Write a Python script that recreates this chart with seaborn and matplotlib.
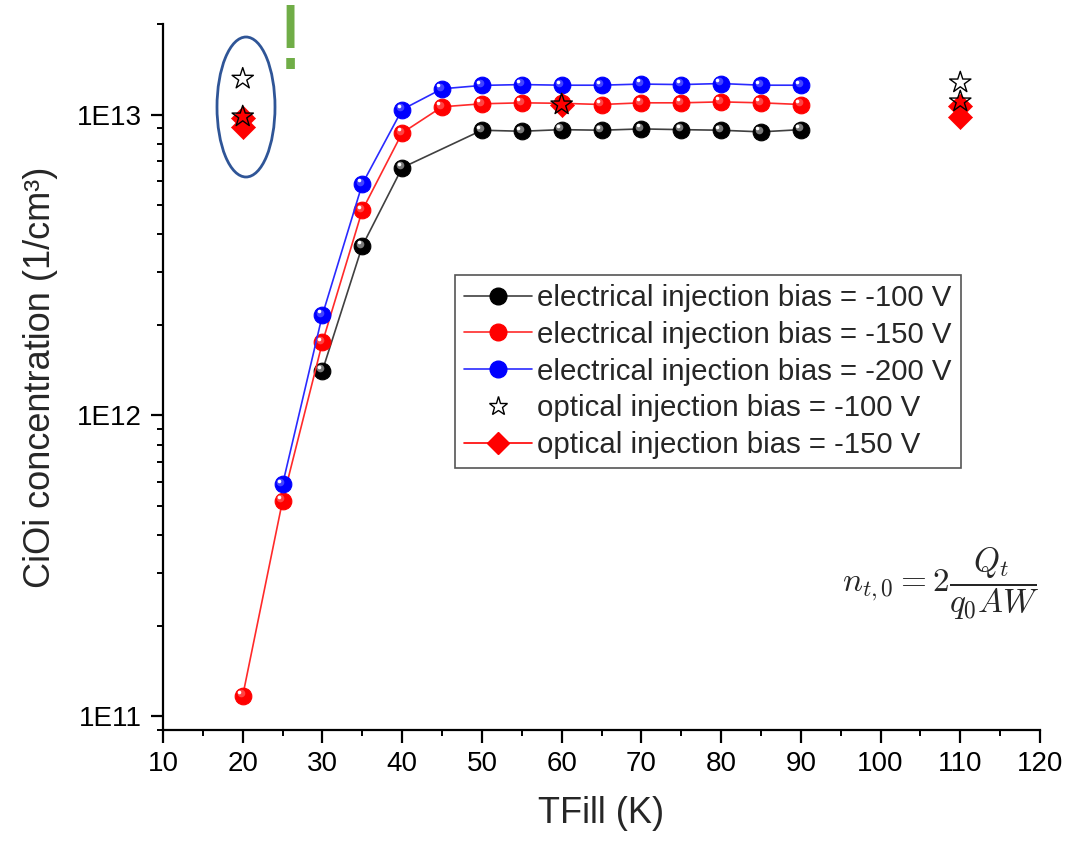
import numpy as np
import pandas as pd
import matplotlib
matplotlib.use("Agg")
import matplotlib.pyplot as plt
import matplotlib.transforms as mtransforms
from matplotlib.lines import Line2D
from matplotlib.patches import Ellipse
from matplotlib.ticker import FixedLocator, FuncFormatter, LogLocator, MultipleLocator
import seaborn as sns

# ---- data -------------------------------------------------------------
t_100 = [30, 35, 40, 50, 55, 60, 65, 70, 75, 80, 85, 90]
n_100 = [1.41e12, 3.66e12, 6.66e12, 8.87e12, 8.80e12, 8.91e12, 8.87e12,
         8.96e12, 8.91e12, 8.87e12, 8.76e12, 8.91e12]

t_150 = [20, 25, 30, 35, 40, 45, 50, 55, 60, 65, 70, 75, 80, 85, 90]
n_150 = [1.17e11, 5.21e11, 1.75e12, 4.81e12, 8.69e12, 1.061e13, 1.086e13,
         1.094e13, 1.09e13, 1.08e13, 1.094e13, 1.094e13, 1.102e13, 1.094e13,
         1.08e13]

t_200 = [25, 30, 35, 40, 45, 50, 55, 60, 65, 70, 75, 80, 85, 90]
n_200 = [5.9e11, 2.16e12, 5.88e12, 1.039e13, 1.218e13, 1.25e13, 1.258e13,
         1.252e13, 1.252e13, 1.263e13, 1.258e13, 1.268e13, 1.252e13, 1.252e13]

t_opt_100 = [20, 20, 60, 110, 110]
n_opt_100 = [1.315e13, 9.85e12, 1.08e13, 1.278e13, 1.105e13]

t_opt_150 = [20, 20, 60, 110, 110]
n_opt_150 = [9.77e12, 9.12e12, 1.073e13, 1.071e13, 9.85e12]

labels = ["electrical injection bias = -100 V",
          "electrical injection bias = -150 V",
          "electrical injection bias = -200 V",
          "optical injection bias = -100 V",
          "optical injection bias = -150 V"]

x_ticks = [10, 20, 30, 40, 50, 60, 70, 80, 90, 100, 110, 120]
y_major = [1e11, 1e12, 1e13]

# ---- style ------------------------------------------------------------
sns.set_style("ticks")
plt.rcParams["font.family"] = ["Liberation Sans", "DejaVu Sans"]
plt.rcParams["mathtext.fontset"] = "cm"

fig = plt.figure(figsize=(10.85, 8.44), dpi=100)
ax = fig.add_axes([163 / 1085, 114 / 844, 877 / 1085, 706 / 844])

series = [
    (t_100, n_100, "#000000", "#404040", labels[0]),
    (t_150, n_150, "#ff0000", "#ff2a2a", labels[1]),
    (t_200, n_200, "#0000ff", "#2a2aff", labels[2]),
]

ms = 12
for t, n, mcol, lcol, lab in series:
    df = pd.DataFrame({"T": t, "n": n})
    sns.lineplot(data=df, x="T", y="n", ax=ax, color=lcol, linewidth=1.2,
                 marker="o", markersize=ms, markerfacecolor=mcol,
                 markeredgecolor=mcol, markeredgewidth=0.8,
                 sort=False, estimator=None, zorder=3, legend=False)

# shaded "ball" look: lighter spot shifted to the upper left of each marker
for t, n, mcol, lcol, lab in series:
    glow = "#9a9a9a" if mcol == "#000000" else sns.blend_palette([mcol, "white"], 4)[1]
    off1 = mtransforms.offset_copy(ax.transData, fig=fig, x=-1.6, y=1.6, units="points")
    off2 = mtransforms.offset_copy(ax.transData, fig=fig, x=-2.6, y=2.6, units="points")
    ax.plot(t, n, ls="none", marker="o", ms=5.5, mfc=glow, mec="none",
            alpha=0.8, transform=off1, zorder=4)
    ax.plot(t, n, ls="none", marker="o", ms=2.6, mfc="white", mec="none",
            transform=off2, zorder=5)

# optical injection points
sns.scatterplot(x=t_opt_150, y=n_opt_150, ax=ax, marker="D", s=150,
                color="#ff0000", edgecolor="#ff0000", linewidth=0.5,
                zorder=6, legend=False)
sns.scatterplot(x=t_opt_100, y=n_opt_100, ax=ax, marker="*", s=260,
                facecolor="none", edgecolor="black", linewidth=1.0,
                zorder=7, legend=False)

# ---- axes ---------------------------------------------------------------
ax.set_yscale("log")
ax.set_xlim(10, 120)
ax.set_ylim(9e10, 2e13)
ax.xaxis.set_major_locator(FixedLocator(x_ticks))
ax.xaxis.set_minor_locator(MultipleLocator(5))
ax.yaxis.set_major_locator(FixedLocator(y_major))
ax.yaxis.set_minor_locator(LogLocator(base=10, subs=np.arange(2, 10), numticks=20))
ax.yaxis.set_major_formatter(
    FuncFormatter(lambda v, p: "1E{:d}".format(int(round(np.log10(v))))))

sns.despine(ax=ax)
for side in ("left", "bottom"):
    ax.spines[side].set_linewidth(1.6)
    ax.spines[side].set_color("black")
ax.tick_params(which="major", direction="out", length=9, width=1.6,
               labelsize=20, colors="black", pad=6)
ax.tick_params(which="minor", direction="out", length=4.5, width=1.4,
               colors="black")

ax.set_xlabel("TFill (K)", fontsize=26, labelpad=14)
ax.set_ylabel("CiOi concentration (1/cm³)", fontsize=26, labelpad=14)

# ---- legend -------------------------------------------------------------
handles = [
    Line2D([], [], color="#404040", lw=1.2, marker="o", ms=ms, mfc="black", mec="black"),
    Line2D([], [], color="#ff2a2a", lw=1.2, marker="o", ms=ms, mfc="#ff0000", mec="#ff0000"),
    Line2D([], [], color="#2a2aff", lw=1.2, marker="o", ms=ms, mfc="#0000ff", mec="#0000ff"),
    Line2D([], [], ls="none", marker="*", ms=14, mfc="none", mec="black", mew=1.0),
    Line2D([], [], color="#ff0000", lw=1.2, marker="D", ms=11, mfc="#ff0000", mec="#ff0000"),
]
leg = ax.legend(handles, labels, loc="upper left",
                bbox_to_anchor=((455 - 163) / 877, (730 - 275) / 706),
                fontsize=21.2, frameon=True, fancybox=False, framealpha=1,
                edgecolor="#555555", handlelength=2.3, handletextpad=0.2,
                labelspacing=0.3, borderpad=0.3, borderaxespad=0)
leg.get_frame().set_linewidth(1.2)

# ---- annotations ----------------------------------------------------------
ax.add_patch(Ellipse((83 / 877, (730 - 107) / 706), 58 / 877, 140 / 706,
                     transform=ax.transAxes, fill=False, edgecolor="#2f5597",
                     linewidth=2, clip_on=False, zorder=8))
fig.text(290 / 1085, (844 - 69) / 844, "!", color="#70ad47", fontsize=63,
         ha="center", va="baseline", family="DejaVu Sans")
fig.text(941 / 1085, (844 - 584) / 844, r"$n_{t,0} = 2\dfrac{Q_t}{q_0 AW}$",
         fontsize=24, ha="center", va="center")

fig.savefig("out.png", dpi=100)
